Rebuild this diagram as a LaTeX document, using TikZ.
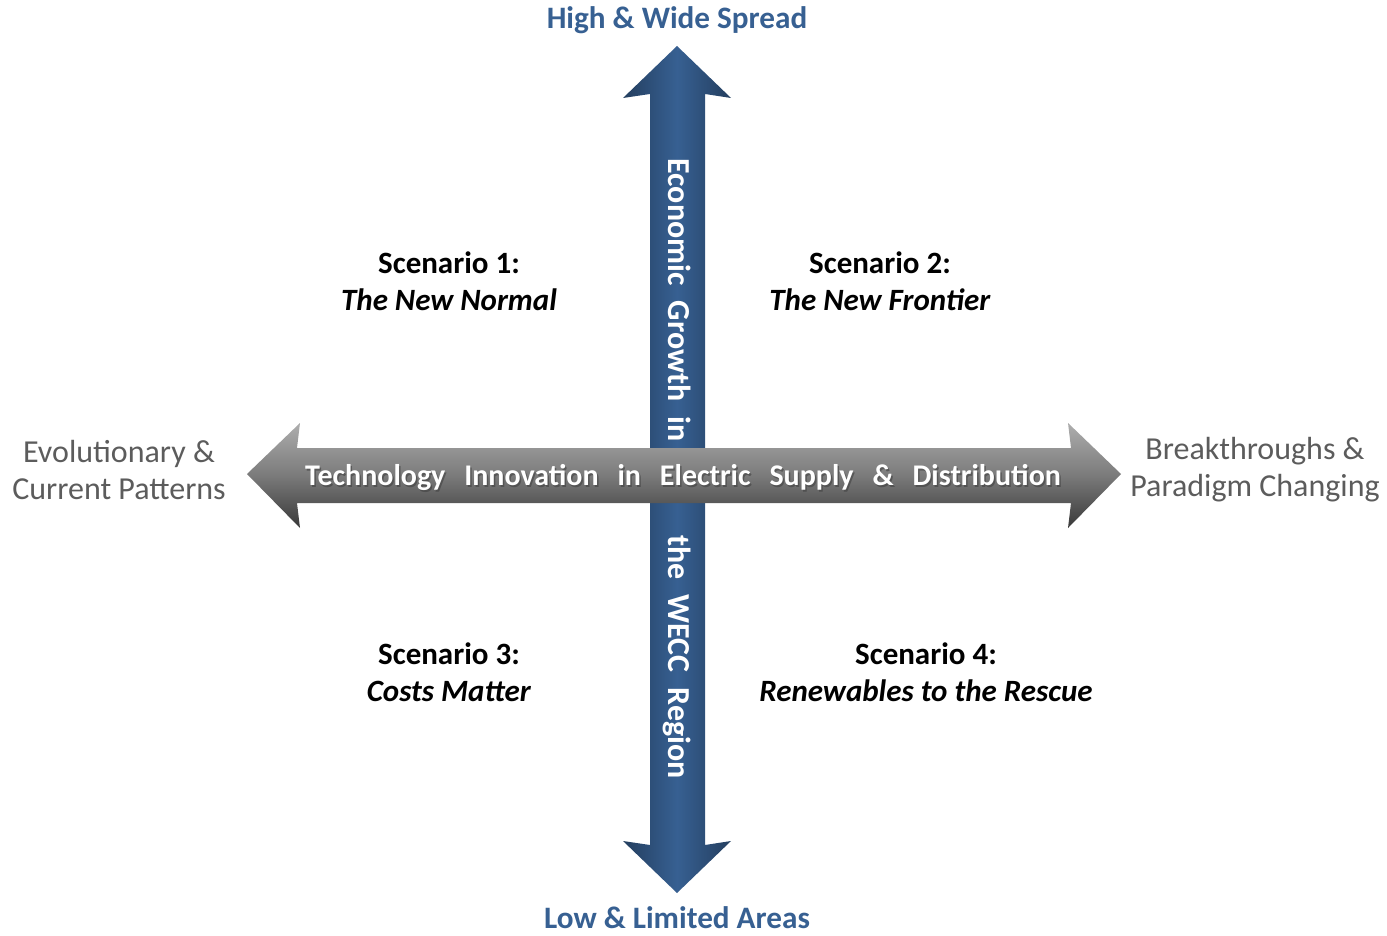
\documentclass[tikz,border=0pt]{standalone}
\usepackage{fontspec}
\setmainfont{Carlito}
\usetikzlibrary{shadings}

\definecolor{axisblue}{RGB}{55,96,146}
\definecolor{sidegray}{RGB}{92,92,92}
\colorlet{blue edge}{axisblue!65!black}
\colorlet{blue core}{axisblue}

% the two axis arrows, in pixel coordinates
\def\growthArrow{(677,46) -- (731,98) -- (705,94) -- (705,845) -- (731,841)
  -- (677,893) -- (623,841) -- (650,845) -- (650,94) -- (623,98) -- cycle}
\def\techArrow{(247,474) -- (300,423) -- (297,448) -- (1071,448) -- (1068,423)
  -- (1121,474) -- (1068,528) -- (1071,503) -- (297,503) -- (300,528) -- cycle}

\tikzset{
  axistext/.style={font=\fontsize{15}{18.5}\selectfont\bfseries, text=white},
  endlabel/.style={font=\fontsize{15.6}{18.5}\selectfont\bfseries, text=axisblue},
  sidelabel/.style={font=\fontsize{16}{18.5}\selectfont, text=sidegray, align=center},
  scenario/.style={font=\fontsize{15.5}{18.5}\selectfont\bfseries, align=center}
}

\begin{document}
\begin{tikzpicture}[x=0.5pt, y=-0.5pt]
    \useasboundingbox (0,0) rectangle (1387,936);
    % vertical axis
    \shade[left color=blue edge, right color=blue edge, middle color=blue core] \growthArrow;
    \node[axistext, font=\fontsize{16}{18.5}\selectfont\bfseries, rotate=-90] (growth) at (677,468.5)
        {\spaceskip=0.47em Economic Growth in\hspace{2.92em}the WECC Region};
    % horizontal axis, on top
    \shade[top color=black!32, bottom color=black!78, middle color=black!52] \techArrow;
    \node[axistext, text=black!75, opacity=0.6] (techshadow) at (684.5,479.5)
        {\spaceskip=0.63em Technology Innovation in Electric Supply \& Distribution};
    \node[axistext] (tech) at (683,477)
        {\spaceskip=0.63em Technology Innovation in Electric Supply \& Distribution};
    % axis ends
    \node[endlabel] (high) at (677,20) {High \& Wide Spread};
    \node[endlabel] (low) at (677,918) {Low \& Limited Areas};
    \node[sidelabel] (evol) at (119,470) {Evolutionary \&\\Current Patterns};
    \node[sidelabel] (break) at (1255,470) {Breakthroughs \&\\Paradigm Changing};
    % scenarios
    \node[scenario] (sc1) at (449,281) {Scenario 1:\\\textit{The New Normal}};
    \node[scenario] (sc2) at (880,281) {Scenario 2:\\\textit{The New Frontier}};
    \node[scenario] (sc3) at (449,672) {Scenario 3:\\\textit{Costs Matter}};
    \node[scenario] (sc4) at (926,672) {Scenario 4:\\\textit{Renewables to the Rescue}};
\end{tikzpicture}
\end{document}
